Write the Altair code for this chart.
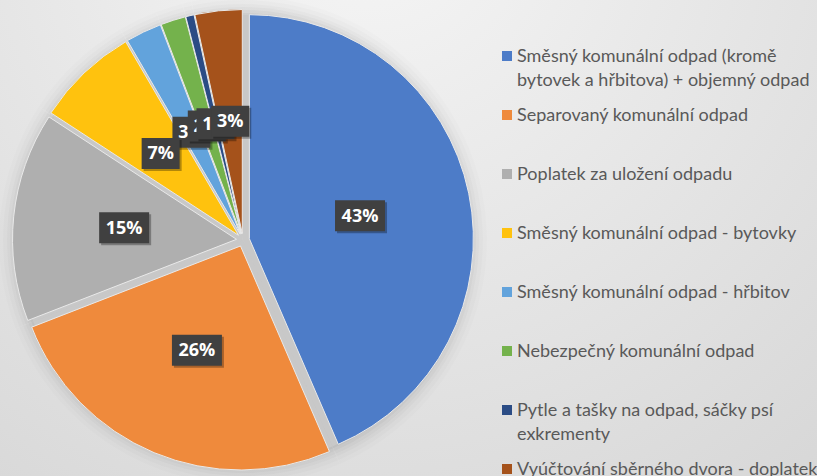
import altair as alt
import pandas as pd

# ---- data ----
categories = [
    "Směsný komunální odpad (kromě bytovek a hřbitova) + objemný odpad",
    "Separovaný komunální odpad",
    "Poplatek za uložení odpadu",
    "Směsný komunální odpad - bytovky",
    "Směsný komunální  odpad - hřbitov",
    "Nebezpečný komunální odpad",
    "Pytle a tašky na odpad, sáčky psí exkrementy",
    "Vyúčtování sběrného dvora - doplatek",
]
legend_text = [
    "Směsný komunální odpad (kromě|bytovek a hřbitova) + objemný odpad",
    "Separovaný komunální odpad",
    "Poplatek za uložení odpadu",
    "Směsný komunální odpad - bytovky",
    "Směsný komunální  odpad - hřbitov",
    "Nebezpečný komunální odpad",
    "Pytle a tašky na odpad, sáčky psí|exkrementy",
    "Vyúčtování sběrného dvora - doplatek",
]
shares = [43.5, 25.6, 15.1, 7.4, 2.6, 1.8, 0.6, 3.4]
labels = ["43%", "26%", "15%", "7%", "3%", "2%", "1%", "3%"]
colors = ["#4D7CC8", "#EF8A3C", "#AFAFAF", "#FFC20E", "#62A3DC", "#74B24C", "#2B4C85", "#A5521B"]

# ---- layout ----
W, H = 817, 476
CX, CY = 243, 240
R = 224
EXPLODE = 6.5
LABEL_R = 113

pie = pd.DataFrame({"cat": categories, "share": shares, "label": labels, "order": list(range(len(shares)))})
leg = pd.DataFrame({"cat": categories, "idx": list(range(len(categories))), "text": legend_text})

xs = alt.Scale(domain=[-CX, W - CX], range=[0, W], zero=False, nice=False)
ys = alt.Scale(domain=[-CY, H - CY], range=[0, H], zero=False, nice=False)
cs = alt.Scale(domain=categories, range=colors)

base = (
    alt.Chart(pie)
    .transform_joinaggregate(total="sum(share)")
    .transform_window(cum="sum(share)", sort=[alt.SortField("order")], frame=[None, 0])
    .transform_calculate(
        mid="2*PI*(datum.cum - datum.share/2)/datum.total",
        zero="0",
    )
    .transform_calculate(
        ex=f"{EXPLODE}*sin(datum.mid)",
        ey=f"-{EXPLODE}*cos(datum.mid)",
    )
    .transform_calculate(
        lx=f"datum.ex + {LABEL_R}*sin(datum.mid)",
        ly=f"datum.ey - {LABEL_R}*cos(datum.mid)",
    )
)

bg = alt.Chart(alt.Data(values=[{"a": 1}])).mark_rect(
    fill=alt.RadialGradient(
        gradient="radial",
        stops=[alt.GradientStop(color="#f6f6f6", offset=0), alt.GradientStop(color="#d3d3d3", offset=1)],
        x1=0.45, y1=0.1, r1=0, x2=0.45, y2=0.1, r2=1.0,
    )
).encode(x=alt.value(0), x2=alt.value(W), y=alt.value(0), y2=alt.value(H))

theta = alt.Theta("share:Q", stack=True)
order = alt.Order("order:Q")

halos = []
for extra, op in [(20, 0.012), (16, 0.016), (12, 0.02), (9, 0.025), (6, 0.03), (3, 0.04)]:
    halos.append(
        base.mark_arc(outerRadius=R + extra, color="#000000", opacity=op).encode(
            theta=theta, order=order,
            x=alt.X("zero:Q", scale=xs, axis=None), y=alt.Y("zero:Q", scale=ys, axis=None),
        )
    )

shadow = base.mark_arc(outerRadius=R + 1, color="#c8c8c8").encode(
    theta=theta, order=order,
    x=alt.X("zero:Q", scale=xs, axis=None), y=alt.Y("zero:Q", scale=ys, axis=None),
)

arcs = base.mark_arc(outerRadius=R, stroke="#e9e9e9", strokeWidth=1).encode(
    theta=theta, order=order,
    color=alt.Color("cat:N", scale=cs, legend=None),
    x=alt.X("ex:Q", scale=xs, axis=None), y=alt.Y("ey:Q", scale=ys, axis=None),
)

def box_path(w, h):
    r = h / w
    return f"M-1,-{r} L1,-{r} L1,{r} L-1,{r} Z"

label_layers = []
for i in [0, 1, 2, 4, 5, 6, 7, 3]:
    w = 50 if len(labels[i]) == 3 else 38
    sub = base.transform_filter(alt.datum.order == i)
    enc = dict(x=alt.X("lx:Q", scale=xs, axis=None), y=alt.Y("ly:Q", scale=ys, axis=None))
    label_layers.append(
        sub.mark_point(shape=box_path(w, 31), size=w * w, filled=True, color="#000000",
                       opacity=0.3, strokeWidth=0, xOffset=2, yOffset=2).encode(**enc)
    )
    label_layers.append(
        sub.mark_point(shape=box_path(w, 31), size=w * w, filled=True, color="#404040",
                       opacity=1, strokeWidth=0).encode(**enc)
    )
    label_layers.append(
        sub.mark_text(font="Open Sans", fontWeight="bold", fontSize=18, color="#ffffff",
                      baseline="middle", align="center", dy=1).encode(text="label:N", **enc)
    )

lys = alt.Scale(domain=[0, 7], range=[56, 469], zero=False, nice=False)
leg_sq = alt.Chart(leg).mark_square(size=100, opacity=1).encode(
    x=alt.value(507),
    y=alt.Y("idx:Q", scale=lys, axis=None),
    color=alt.Color("cat:N", scale=cs, legend=None),
)
leg_txt = alt.Chart(leg).transform_calculate(lines="split(datum.text, '|')").mark_text(
    align="left", baseline="alphabetic", font="Lato", fontSize=18, lineHeight=24,
    color="#595959", dy=6,
).encode(
    x=alt.value(517),
    y=alt.Y("idx:Q", scale=lys, axis=None),
    text="lines:N",
)

chart = (
    alt.layer(bg, *halos, shadow, arcs, *label_layers, leg_sq, leg_txt)
    .resolve_scale(x="independent", y="independent")
    .properties(width=W, height=H, padding=0, autosize=alt.AutoSizeParams(type="none"))
    .configure_view(stroke=None)
)

chart.save("out.html", embed_options={"renderer": "svg", "actions": False})
